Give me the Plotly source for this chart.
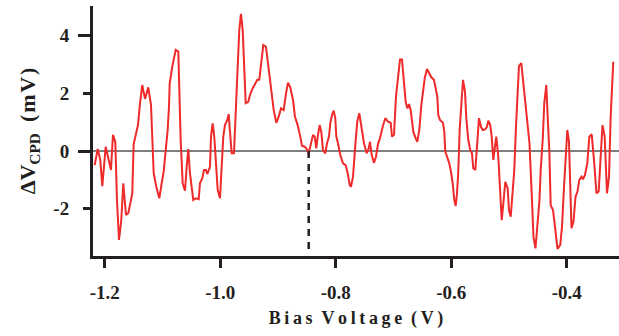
import plotly.graph_objects as go

# Bias voltage (V) and CPD change (mV)
bias_v = [
-1.2175,-1.2123,-1.2078,-1.2043,-1.1984,-1.1939,-1.1893,-1.1858,-1.1818,-1.1789,
-1.1754,-1.1714,-1.1680,-1.1633,-1.1593,-1.1558,-1.1524,-1.1500,-1.1455,-1.1425,
-1.1390,-1.1351,-1.1304,-1.1247,-1.1200,-1.1153,-1.1108,-1.1056,-1.1015,-1.0980,
-1.0945,-1.0911,-1.0888,-1.0876,-1.0831,-1.0797,-1.0772,-1.0727,-1.0686,-1.0651,
-1.0611,-1.0582,-1.0554,-1.0525,-1.0468,-1.0421,-1.0374,-1.0352,-1.0312,-1.0282,
-1.0248,-1.0225,-1.0178,-1.0161,-1.0132,-1.0104,-1.0074,-1.0045,-1.0005,-0.9983,
-0.9948,-0.9919,-0.9879,-0.9855,-0.9832,-0.9803,-0.9763,-0.9740,-0.9706,-0.9671,
-0.9642,-0.9612,-0.9584,-0.9560,-0.9515,-0.9486,-0.9439,-0.9394,-0.9359,-0.9325,
-0.9295,-0.9255,-0.9209,-0.9145,-0.9105,-0.9075,-0.9030,-0.8989,-0.8949,-0.8902,
-0.8862,-0.8828,-0.8788,-0.8741,-0.8707,-0.8660,-0.8615,-0.8585,-0.8539,-0.8511,
-0.8469,-0.8442,-0.8395,-0.8365,-0.8338,-0.8313,-0.8279,-0.8251,-0.8222,-0.8182,
-0.8152,-0.8118,-0.8095,-0.8066,-0.8036,-0.8009,-0.7991,-0.7962,-0.7922,-0.7875,
-0.7829,-0.7794,-0.7759,-0.7737,-0.7702,-0.7655,-0.7628,-0.7593,-0.7558,-0.7512,
-0.7465,-0.7430,-0.7408,-0.7378,-0.7339,-0.7304,-0.7269,-0.7235,-0.7188,-0.7143,
-0.7096,-0.7049,-0.7027,-0.6992,-0.6958,-0.6923,-0.6888,-0.6854,-0.6819,-0.6790,
-0.6762,-0.6732,-0.6703,-0.6658,-0.6616,-0.6589,-0.6554,-0.6519,-0.6485,-0.6461,
-0.6421,-0.6386,-0.6346,-0.6300,-0.6265,-0.6242,-0.6225,-0.6196,-0.6144,-0.6121,
-0.6104,-0.6074,-0.6035,-0.6005,-0.5976,-0.5948,-0.5924,-0.5901,-0.5879,-0.5855,
-0.5820,-0.5797,-0.5763,-0.5740,-0.5706,-0.5671,-0.5642,-0.5619,-0.5584,-0.5555,
-0.5520,-0.5486,-0.5456,-0.5416,-0.5382,-0.5359,-0.5325,-0.5300,-0.5273,-0.5255,
-0.5221,-0.5186,-0.5152,-0.5127,-0.5093,-0.5065,-0.5023,-0.5001,-0.4971,-0.4944,
-0.4909,-0.4880,-0.4850,-0.4828,-0.4788,-0.4746,-0.4701,-0.4646,-0.4603,-0.4577,
-0.4542,-0.4507,-0.4473,-0.4452,-0.4417,-0.4390,-0.4355,-0.4326,-0.4303,-0.4279,
-0.4239,-0.4204,-0.4161,-0.4113,-0.4083,-0.4048,-0.4019,-0.3991,-0.3962,-0.3919,
-0.3884,-0.3849,-0.3815,-0.3784,-0.3746,-0.3720,-0.3685,-0.3645,-0.3610,-0.3569,
-0.3529,-0.3486,-0.3448,-0.3416,-0.3382,-0.3344,-0.3304,-0.3269,-0.3240,-0.3195,
]
delta_cpd_mv = [
-0.49,0.07,-0.31,-1.22,0.15,-0.31,-0.66,0.56,0.32,-1.70,
-3.09,-2.40,-1.12,-2.22,-2.16,-1.82,-1.47,0.24,0.61,0.90,
1.66,2.29,1.81,2.21,1.60,-0.77,-1.24,-1.64,-1.12,-0.72,
0.03,0.73,1.54,2.35,2.93,3.22,3.51,3.45,0.38,-1.12,
-1.38,-0.55,0.07,-0.77,-1.70,-1.64,-1.67,-1.12,-0.95,-0.66,
-0.66,-0.80,-0.55,0.50,0.96,0.50,-0.31,-1.35,-1.64,-0.77,
0.50,0.90,1.08,1.28,0.79,-0.08,-0.08,1.25,2.58,4.20,
4.76,4.20,2.93,1.66,1.71,1.94,2.18,2.37,2.47,2.47,
3.05,3.68,3.62,2.58,2.00,1.42,0.98,1.19,1.48,1.42,
2.00,2.37,2.21,1.77,1.19,0.90,0.50,0.18,0.15,0.09,
-0.08,0.15,0.56,0.50,0.09,0.50,0.90,0.67,0.03,-0.08,
0.27,0.50,0.96,1.25,1.40,1.14,0.50,0.27,-0.14,-0.43,
-0.49,-0.77,-1.18,-1.24,-0.89,0.38,1.02,1.31,0.84,0.27,
-0.08,0.09,0.32,-0.14,-0.41,-0.20,0.24,0.44,0.84,1.14,
1.02,0.98,0.50,0.56,1.89,2.58,3.18,3.18,2.47,1.71,
1.48,1.63,1.42,0.67,0.44,0.32,0.73,1.60,2.12,2.52,
2.85,2.70,2.56,2.47,2.18,1.89,1.25,1.08,0.98,0.67,
-0.02,-0.20,-0.43,-0.72,-1.12,-1.70,-1.91,-1.47,-0.72,0.73,
1.77,2.47,2.06,1.14,0.38,0.03,-0.08,-0.60,-0.66,0.27,
1.14,0.84,0.73,0.75,0.84,1.05,0.90,0.50,-0.31,-0.02,
0.50,-0.20,-1.70,-2.40,-1.70,-1.07,-1.30,-2.05,-2.28,-1.64,
-0.66,0.84,2.12,2.95,3.05,2.23,1.14,0.27,-1.70,-2.98,
-3.38,-2.63,-1.70,-0.66,0.38,1.66,2.29,0.96,0.03,-1.88,
-2.05,-2.63,-3.40,-3.26,-2.63,-1.24,0.03,0.73,0.32,-2.68,
-2.45,-1.59,-1.41,-1.01,-0.89,-0.98,-0.83,-0.43,0.50,0.58,
-0.31,-1.47,-1.41,-0.20,0.90,0.50,-1.47,-0.89,1.19,3.10,
]

x_tick_vals = [-1.2, -1.0, -0.8, -0.6, -0.4]
x_tick_text = ["-1.2", "-1.0", "-0.8", "-0.6", "-0.4"]
y_tick_vals = [-2, 0, 2, 4]
y_tick_text = ["-2", "0", "2", "4"]
y_long_ticks = [0, 4]
marker_bias = -0.8469
marker_bottom = -3.44

x_title = "B\u2009i\u2009a\u2009s\u2002V\u2009o\u2009l\u2009t\u2009a\u2009g\u2009e\u2002(\u2009V\u2009)"
y_title = "ΔV<sub>CPD</sub>\u2002(\u200am\u200aV\u200a)"

x_range = [-1.2204, -0.3096]
y_range = [-3.646, 5.035]

FONT = "Liberation Serif"
AXIS_COLOR = "#231f20"

fig = go.Figure()
fig.add_trace(go.Scatter(
    x=bias_v, y=delta_cpd_mv, mode="lines",
    line=dict(color="#ee2a2a", width=2),
    hoverinfo="skip", showlegend=False,
))

# zero reference line
fig.add_shape(type="line", xref="paper", yref="y", x0=0, x1=1, y0=0, y1=0,
              line=dict(color="#555555", width=1.5), layer="below")
# dashed marker line
fig.add_shape(type="line", xref="x", yref="y", x0=marker_bias, x1=marker_bias,
              y0=0, y1=marker_bottom,
              line=dict(color="#231f20", width=2.5, dash="7px,6px"))

fig.update_layout(
    width=619, height=336,
    margin=dict(l=93, r=0, t=6, b=80, autoexpand=False),
    paper_bgcolor="white", plot_bgcolor="white",
    font=dict(family=FONT, color="#231f20"),
    xaxis=dict(
        range=x_range, showgrid=False, zeroline=False, automargin=False,
        showline=True, linecolor=AXIS_COLOR, linewidth=3,
        ticks="outside", ticklen=9, tickwidth=3, tickcolor=AXIS_COLOR,
        tickvals=x_tick_vals, ticktext=x_tick_text,
        tickfont=dict(family=FONT, size=19, color="#231f20", weight="bold"),
        ticklabelstandoff=8,
        title=dict(text=x_title, standoff=10,
                   font=dict(family=FONT, size=18, color="#231f20", weight="bold")),
    ),
    yaxis=dict(
        range=y_range, showgrid=False, zeroline=False, automargin=False,
        showline=True, linecolor=AXIS_COLOR, linewidth=3,
        ticks="outside", ticklen=7, tickwidth=3, tickcolor=AXIS_COLOR,
        tickvals=y_tick_vals, ticktext=y_tick_text,
        tickfont=dict(family=FONT, size=19, color="#231f20", weight="bold"),
        ticklabelstandoff=10,
        minor=dict(tickvals=y_long_ticks, ticks="outside", ticklen=12,
                   tickwidth=3, tickcolor=AXIS_COLOR),
        title=dict(text=y_title, standoff=12,
                   font=dict(family=FONT, size=22, color="#231f20", weight="bold")),
    ),
)

fig.write_html("out.html", config={"displayModeBar": False},
               post_script="document.body.style.margin='0';")
